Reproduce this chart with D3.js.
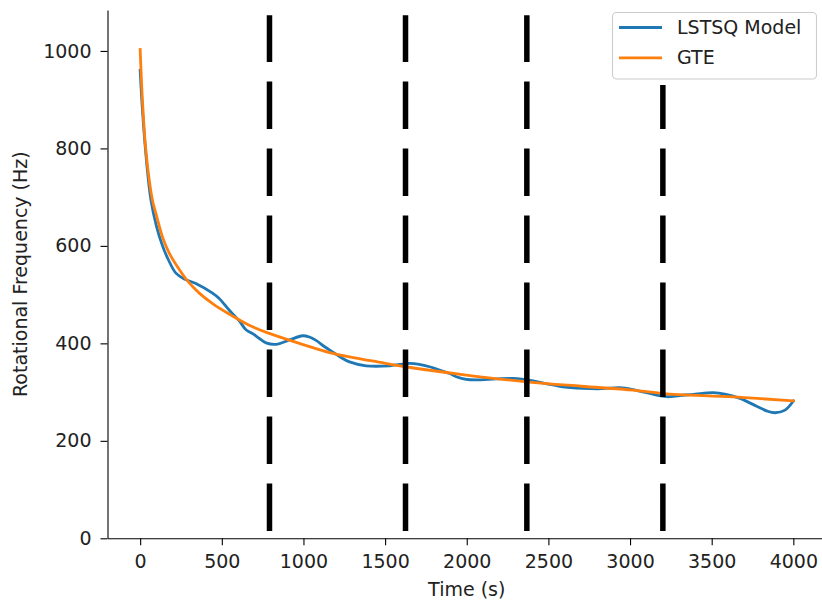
<!DOCTYPE html>
<html>
<head>
<meta charset="utf-8">
<script src="https://cdn.jsdelivr.net/npm/d3@7"></script>
<style>
  body { margin: 0; background: #fff; }
  svg { display: block; font-family: "DejaVu Sans", sans-serif; }
</style>
</head>
<body>
<div id="chart"></div>
<script>
var w = 822;
var h = 601;

// LSTSQ model curve (time s, frequency Hz)
var lstsqTime = [0, 14, 40, 66, 100, 137, 175, 219, 270, 341, 443, 484, 546, 607, 648, 689, 730, 771,
  832, 914, 995, 1036, 1077, 1130, 1180, 1230, 1282, 1384, 1527, 1650, 1710, 1772, 1833, 1895, 1936, 1997, 2058,
  2180, 2283, 2406, 2490, 2569, 2712, 2830, 2937, 3020, 3101, 3224, 3305, 3400, 3509, 3580, 3673, 3775, 3840, 3888, 3949, 4000];
var lstsqFreq = [960, 879, 770, 694, 640, 600, 570, 544, 532, 523, 503, 492, 468, 446, 428, 420, 410, 401,
  398, 407, 415.6, 413, 406, 393, 382, 371, 362, 354, 354, 359, 357, 352, 345, 338, 331.5, 326, 325,
  327, 328, 323, 317, 312, 307.7, 307, 309, 305, 298.7, 290.5, 293, 296, 298.7, 296, 287, 271, 261, 257.6, 263, 281.6];

// GTE curve
var gteTime = [0, 14, 35, 75, 96, 137, 178, 219, 290, 362, 450, 556, 668, 791, 975, 1179, 1486, 1625, 1997, 2369, 2700, 3019, 3203, 3632, 4000];
var gteFreq = [1003, 899, 796, 694, 667, 618, 585, 562, 528, 503, 480, 458, 437, 420.5, 400, 379.5, 360, 352, 335, 321, 312, 304, 297, 290, 282];

// vertical dashed markers
var markerTime = [792, 1625, 2368, 3201];
var markerTop = [1073, 1073, 1073, 930];
var markerBottom = 15;

var xTicks = [0, 500, 1000, 1500, 2000, 2500, 3000, 3500, 4000];
var yTicks = [0, 200, 400, 600, 800, 1000];

var seriesNames = ['LSTSQ Model', 'GTE'];
var seriesColors = ['#1f77b4', '#ff7f0e'];

var plotLeft = 107.5, plotRight = 826, plotTop = 10, plotBottom = 538.3;

var svg = d3.select('#chart')
  .append('svg')
    .attr('width', w)
    .attr('height', h);

var x = d3.scaleLinear().domain([-200, 4200]).range([plotLeft, plotRight]);
var y = d3.scaleLinear().domain([0, 1084]).range([plotBottom, plotTop]);

var line = d3.line()
  .x(d => x(d[0]))
  .y(d => y(d[1]))
  .curve(d3.curveCatmullRom.alpha(0.5));

var lstsq = lstsqTime.map((t, i) => [t, lstsqFreq[i]]);
var gte = gteTime.map((t, i) => [t, gteFreq[i]]);

[lstsq, gte].forEach(function (series, i) {
  svg.append('path')
    .datum(series)
    .attr('d', line)
    .attr('fill', 'none')
    .attr('stroke', seriesColors[i])
    .attr('stroke-width', 2.8)
    .attr('stroke-linecap', 'square');
});

// dashed markers, drawn bottom-up so the dash pattern starts at the bottom
svg.selectAll('line.marker')
  .data(markerTime)
  .enter()
  .append('line')
    .attr('class', 'marker')
    .attr('x1', d => x(d))
    .attr('x2', d => x(d))
    .attr('y1', y(markerBottom))
    .attr('y2', (d, i) => y(markerTop[i]))
    .attr('stroke', '#000')
    .attr('stroke-width', 5.5)
    .attr('stroke-dasharray', '47.5,19.5');

// axes
var xAxis = svg.append('g')
  .attr('transform', 'translate(0,' + plotBottom + ')')
  .call(d3.axisBottom(x).tickValues(xTicks).tickFormat(d3.format('d'))
    .tickSize(7).tickPadding(9).tickSizeOuter(0));

var yAxis = svg.append('g')
  .attr('transform', 'translate(' + plotLeft + ',0)')
  .call(d3.axisLeft(y).tickValues(yTicks).tickFormat(d3.format('d'))
    .tickSize(7).tickPadding(9).tickSizeOuter(0));

[xAxis, yAxis].forEach(function (g) {
  g.select('.domain').attr('stroke', '#000').attr('stroke-width', 1.1);
  g.selectAll('.tick line').attr('stroke', '#000').attr('stroke-width', 1.1);
  g.selectAll('.tick text')
    .attr('fill', '#222')
    .style('font-size', '19px')
    .style('font-family', '"DejaVu Sans", sans-serif');
});

svg.append('text')
  .attr('x', x(2000))
  .attr('y', 596)
  .attr('text-anchor', 'middle')
  .attr('fill', '#222')
  .style('font-size', '19px')
  .text('Time (s)');

svg.append('text')
  .attr('transform', 'translate(27,' + ((plotTop + plotBottom) / 2) + ') rotate(-90)')
  .attr('text-anchor', 'middle')
  .attr('fill', '#222')
  .style('font-size', '19px')
  .text('Rotational Frequency (Hz)');

// legend
var legend = svg.append('g');
legend.append('rect')
  .attr('x', 612.5)
  .attr('y', 12.5)
  .attr('width', 204)
  .attr('height', 66.5)
  .attr('rx', 4)
  .attr('fill', 'rgba(255,255,255,0.8)')
  .attr('stroke', '#cccccc')
  .attr('stroke-width', 1.1);

var items = legend.selectAll('g.item')
  .data(seriesNames)
  .enter()
  .append('g')
    .attr('class', 'item')
    .attr('transform', (d, i) => 'translate(0,' + (27.5 + i * 30.3) + ')');

items.append('line')
  .attr('x1', 619)
  .attr('x2', 662)
  .attr('stroke', (d, i) => seriesColors[i])
  .attr('stroke-width', 2.8);

items.append('text')
  .attr('x', 677)
  .attr('dy', '0.35em')
  .attr('fill', '#222')
  .style('font-size', '19px')
  .text(d => d);
</script>
</body>
</html>
